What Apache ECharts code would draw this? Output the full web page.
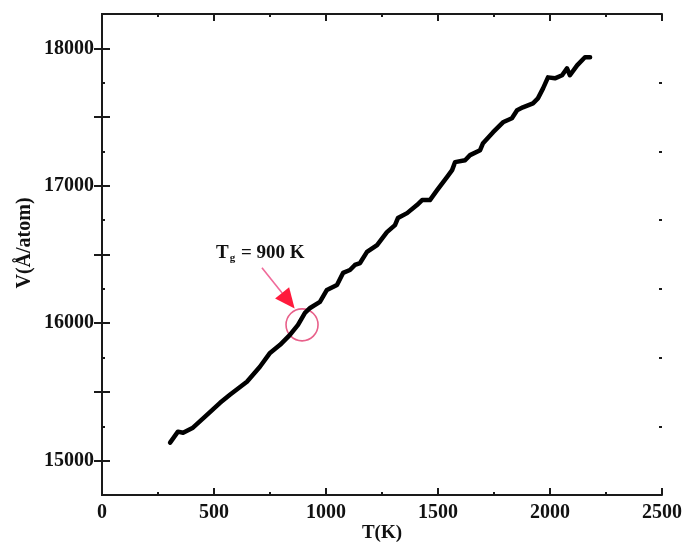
<!DOCTYPE html>
<html>
<head>
<meta charset="utf-8">
<script src="https://cdn.jsdelivr.net/npm/echarts@6/dist/echarts.min.js"></script>
<style>
  html, body { margin: 0; padding: 0; background: #fff; }
  #main { width: 687px; height: 543px; }
</style>
</head>
<body>
<div id="main"></div>
<script>
// temperature (K) and volume values
const temps = [304, 339, 362, 406, 460, 527, 571, 647, 705, 750, 795, 839, 875, 906, 929, 973,
  1004, 1049, 1076, 1107, 1129, 1152, 1183, 1228, 1272, 1308, 1321, 1362, 1406, 1429, 1464,
  1496, 1540, 1563, 1576, 1621, 1643, 1688, 1701, 1746, 1790, 1830, 1853, 1879, 1924, 1946,
  1969, 1991, 2022, 2054, 2076, 2089, 2121, 2156, 2179];
const volumes = [15131, 15211, 15203, 15240, 15320, 15421, 15479, 15574, 15683, 15784, 15843,
  15915, 15988, 16075, 16111, 16155, 16242, 16278, 16366, 16387, 16424, 16438, 16519, 16569,
  16663, 16714, 16765, 16801, 16860, 16896, 16896, 16968, 17063, 17114, 17172, 17186, 17223,
  17259, 17310, 17390, 17462, 17491, 17550, 17571, 17600, 17636, 17709, 17789, 17782, 17804,
  17855, 17804, 17876, 17935, 17935];
const yLabelValues = [15000, 16000, 17000, 18000];
const yMajorTicks = [15000, 15500, 16000, 16500, 17000, 17500, 18000];
const yMinorTicks = [15250, 15750, 16250, 16750, 17250, 17750];
const tg = 900;

const FONT = 'Liberation Serif';
const AXIS_COLOR = '#1a1a1a';

function yAxisCfg(pos, ticks, len, showLine, showLabel) {
  return {
    type: 'value', position: pos, offset: 0, min: 14750, max: 18250,
    axisLine: { show: showLine, lineStyle: { color: AXIS_COLOR, width: 2 } },
    axisTick: { show: true, inside: true, length: len, customValues: ticks,
      lineStyle: { color: AXIS_COLOR, width: 2 } },
    axisLabel: { show: showLabel, customValues: yLabelValues, margin: 8,
      formatter: v => String(v),
      fontFamily: FONT, fontWeight: 'bold', fontSize: 20, color: '#111' },
    splitLine: { show: false }
  };
}

function xAxisCfg(pos, showLabel) {
  return {
    type: 'value', position: pos, min: 0, max: 2500, interval: 500,
    name: showLabel ? 'T(K)' : '', nameLocation: 'middle', nameGap: 29, nameMoveOverlap: false,
    nameTextStyle: { fontFamily: FONT, fontWeight: 'bold', fontSize: 19, color: '#111' },
    axisLine: { show: true, lineStyle: { color: AXIS_COLOR, width: 2 } },
    axisTick: { show: true, inside: true, length: 7, lineStyle: { color: AXIS_COLOR, width: 2 } },
    minorTick: { show: true, splitNumber: 2, length: 3, lineStyle: { color: AXIS_COLOR, width: 2 } },
    axisLabel: { show: showLabel, margin: 8, formatter: v => String(v),
      fontFamily: FONT, fontWeight: 'bold', fontSize: 20, color: '#111' },
    splitLine: { show: false }
  };
}

const chart = echarts.init(document.getElementById('main'));
chart.setOption({
  animation: false,
  grid: { left: 102, right: 25, top: 14, bottom: 48, containLabel: false, outerBoundsMode: 'none' },
  xAxis: [xAxisCfg('bottom', true), xAxisCfg('top', false)],
  yAxis: [
    yAxisCfg('left', yMajorTicks, 8, true, true),
    yAxisCfg('right', yMajorTicks, 8, true, false),
    yAxisCfg('left', yMinorTicks, 3, false, false),
    yAxisCfg('right', yMinorTicks, 3, false, false)
  ],
  series: [{
    type: 'line',
    data: temps.map((t, i) => [t, volumes[i]]),
    showSymbol: false,
    lineStyle: { color: '#000', width: 4.5, join: 'round', cap: 'round' }
  }]
});

// annotation anchored on data coordinates
const c = chart.convertToPixel({ gridIndex: 0 }, [tg - 7, 15988]);
const tip = chart.convertToPixel({ gridIndex: 0 }, [860, 16107]);
const tail = chart.convertToPixel({ gridIndex: 0 }, [714, 16403]);
const ang = Math.atan2(tip[1] - tail[1], tip[0] - tail[0]);
const hl = 20, hw = 9;
const base = [tip[0] - hl * Math.cos(ang), tip[1] - hl * Math.sin(ang)];
const p1 = [base[0] + hw * Math.sin(ang), base[1] - hw * Math.cos(ang)];
const p2 = [base[0] - hw * Math.sin(ang), base[1] + hw * Math.cos(ang)];

chart.setOption({
  graphic: [
    {
      type: 'text', position: [25, 243], rotation: Math.PI / 2,
      style: { text: 'V(Å/atom)', x: 0, y: 0, align: 'center', verticalAlign: 'middle',
        font: 'bold 20px "Liberation Serif"', fill: '#111' }
    },
    {
      type: 'circle', shape: { cx: c[0], cy: c[1], r: 16 },
      style: { fill: 'none', stroke: '#e8608a', lineWidth: 1.6 }
    },
    {
      type: 'line', shape: { x1: tail[0], y1: tail[1], x2: base[0], y2: base[1] },
      style: { stroke: '#f06a9a', lineWidth: 1.6 }
    },
    {
      type: 'polygon', shape: { points: [tip, p1, p2] },
      style: { fill: '#ff1a3c' }
    },
    {
      type: 'text', position: [216, 253],
      style: {
        text: '{a|T}{b|g}{a| = 900 K}', verticalAlign: 'middle',
        rich: {
          a: { fontFamily: FONT, fontWeight: 'bold', fontSize: 19, fill: '#111' },
          b: { fontFamily: FONT, fontWeight: 'bold', fontSize: 11, fill: '#111', padding: [10, 1, 0, 1] }
        }
      }
    }
  ]
});
</script>
</body>
</html>
